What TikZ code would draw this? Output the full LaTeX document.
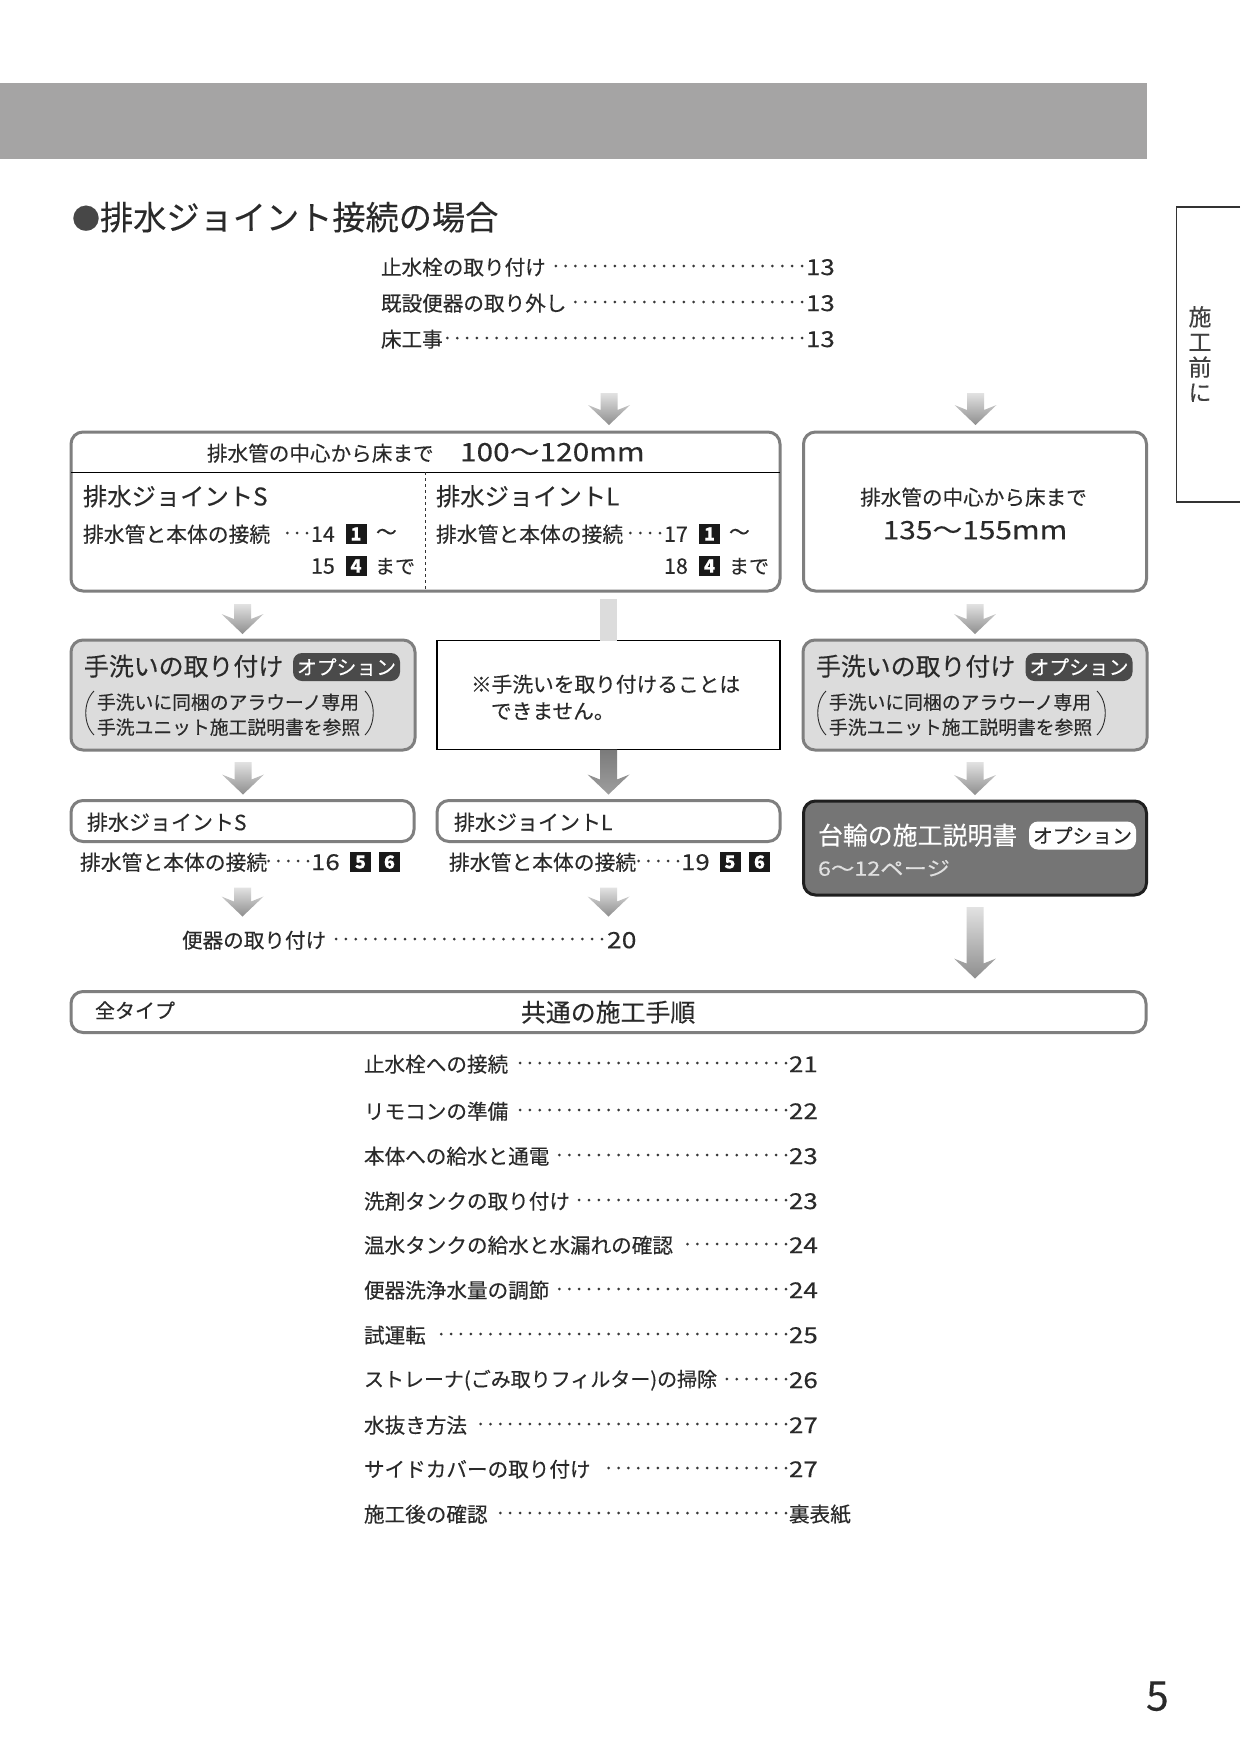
\documentclass[tikz,border=0pt]{standalone}
\usepackage{fontspec}
\setmainfont[FakeBold=0.25]{Noto Sans CJK JP}
\newfontfamily\widefont[FakeStretch=1.18,FakeBold=0.25]{Noto Sans CJK JP}
\usetikzlibrary{calc}
\definecolor{txt}{HTML}{2A2A2A}
\definecolor{band}{HTML}{A5A4A4}
\definecolor{edge}{HTML}{7F7F7F}
\definecolor{panel}{HTML}{DCDCDC}
\definecolor{darkpanel}{HTML}{757575}
\definecolor{pilldark}{HTML}{4A4A4A}
\definecolor{arrowtop}{HTML}{E2E2E2}
\definecolor{arrowtip}{HTML}{8E8E8E}
\tikzset{
  tx/.style={inner sep=0pt,outer sep=0pt,text=txt,anchor=west,yshift=-1.2pt},
  rbox/.style={draw=edge,line width=3pt,rounded corners=12pt,inner sep=0pt,outer sep=0pt,fill=white},
  panelbox/.style={rbox,fill=panel},
  darkbox/.style={rbox,draw=black!88,fill=darkpanel},
  notebox/.style={draw=black,line width=1.5pt,fill=white,inner sep=0pt,outer sep=0pt},
  pillbox/.style={rounded corners=9pt,fill=pilldark,text=white,inner sep=0pt,outer sep=0pt,minimum width=107pt,minimum height=28pt,font=\fontsize{19.8}{20}\selectfont},
  pillwhite/.style={pillbox,fill=white,text=txt},
  sqnum/.style={fill=black!90,text=white,inner sep=0pt,outer sep=0pt,minimum width=21pt,minimum height=20pt,font=\bfseries\fontsize{18}{18}\selectfont},
  leader/.style={draw=black!78,line width=3pt,line cap=round,dash pattern=on 0pt off 9.85pt,yshift=-1pt},
  paren/.style={draw=txt,line width=0.9pt},
  rule/.style={draw=black,line width=1pt},
}
\newcommand\tx[5]{\node[tx,font=\fontsize{#4}{#4}\selectfont] (#1) at (#2,#3) {#5};}
\newcommand\wtx[5]{\node[tx,font=\widefont\fontsize{#4}{#4}\selectfont] (#1) at (#2,#3) {#5};}
\newcommand\garrow[2]{\path[top color=arrowtop,bottom color=arrowtip] let \p1=(#1),\p2=(#2) in
  (\x1-8.5pt,\y1)--(\x1+8.5pt,\y1)--(\x1+8.5pt,\y2+15pt)--(\x1+21pt,\y2+20pt)--(\x1,\y2)--(\x1-21pt,\y2+20pt)--(\x1-8.5pt,\y2+15pt)--cycle;}
\newcommand\tocrow[6][20.6]{% [label size] name, y, label, dot start, number
  \tx{#2}{364}{#3}{#1}{#4}
  \wtx{#2n}{789}{#3}{22}{#6}
  \coordinate (#2d) at (#5,#3);
  \draw[leader] ([xshift=-3pt]#2n.west |- #2d) -- (#2d);}
\begin{document}
\begin{tikzpicture}[x=1pt,y=-1pt]
\useasboundingbox (0,0) rectangle (1240,1754);
\fill[white] (0,0) rectangle (1240,1754);
\node[fill=band,inner sep=0pt,outer sep=0pt,minimum width=1147pt,minimum height=76pt] (topband) at (573.5,121) {};
\node[tx,text=black!72,font=\fontsize{28}{28}\selectfont] (titledot) at (72,217) {●};
\node[tx,font=\fontsize{33.2}{33}\selectfont] (title) at (100,216) {排水ジョイント接続の場合};

% side tab
\coordinate (tabA) at (1240,207);
\coordinate (tabB) at (1176.5,207);
\coordinate (tabC) at (1176.5,502);
\coordinate (tabD) at (1240,502);
\draw[draw=black!80,line width=1.4pt] (tabA) -- (tabB) -- (tabC) -- (tabD);
\node[inner sep=0pt,text=black!75,align=center,font=\fontsize{23}{25.2}\selectfont] (tabtext) at (1200,354) {施\\工\\前\\に};

% opening list
\tx{ta}{381}{266}{20.6}{止水栓の取り付け}
\wtx{tan}{806}{266}{22}{13}
\coordinate (tad) at (547,266);
\draw[leader] ([xshift=-4pt]tan.west |- tad) -- (tad);
\tx{tb}{381}{302}{20.6}{既設便器の取り外し}
\wtx{tbn}{806}{302}{22}{13}
\coordinate (tbd) at (570,302);
\draw[leader] ([xshift=-4pt]tbn.west |- tbd) -- (tbd);
\tx{tc}{381}{338}{20.6}{床工事}
\wtx{tcn}{806}{338}{22}{13}
\coordinate (tcd) at (447,338);
\draw[leader] ([xshift=-4pt]tcn.west |- tcd) -- (tcd);

% main boxes
\node[rbox,minimum width=709pt,minimum height=159pt] (boxA) at (425.5,511.5) {};
\node[rbox,minimum width=343pt,minimum height=159pt] (boxB) at (975,511.5) {};
\draw[rule] (boxA.west |- 0,472) -- (boxA.east |- 0,472);
\draw[draw=black!80,line width=0.8pt,dashed] (425,472) -- (425,590);

% column coordinates for the arrows
\coordinate (colL) at (609,393);
\coordinate (colR) at (975.5,393);
\coordinate (colLb) at (608.5,599);

\node[panelbox,minimum width=344pt,minimum height=110pt] (wash1) at (243,695) {};
\node[notebox,minimum width=343pt,minimum height=109pt] (note) at (608.5,695) {};
\node[panelbox,minimum width=344pt,minimum height=110pt] (wash2) at (975,695) {};
\node[rbox,minimum width=343pt,minimum height=41pt] (jointS) at (242.5,821) {};
\node[rbox,minimum width=343pt,minimum height=41pt] (jointL) at (608.5,821) {};
\node[darkbox,minimum width=343pt,minimum height=94pt] (stand) at (975,848) {};
\node[rbox,minimum width=1075pt,minimum height=41pt] (common) at (608.5,1012) {};

% block arrows
\garrow{colL}{$(boxA.north -| colL)+(0,-7)$}
\garrow{colR}{$(boxB.north)+(0,-7)$}
\garrow{$(boxA.south)+(-183,13)$}{$(wash1.north)+(0,-6)$}
\fill[panel] ($(colLb)+(-8.5,0)$) rectangle ($(note.north)+(8.5,0)$);
\path[top color=black!52,bottom color=black!38] let \p1=(note.south),\p2=($(jointL.north)+(0,-6)$) in
  (\x1-8.5pt,\y1)--(\x1+8.5pt,\y1)--(\x1+8.5pt,\y2+15pt)--(\x1+21pt,\y2+20pt)--(\x1,\y2)--(\x1-21pt,\y2+20pt)--(\x1-8.5pt,\y2+15pt)--cycle;
\garrow{$(boxB.south)+(0,13)$}{$(wash2.north)+(0,-6)$}
\garrow{$(wash1.south)+(0,12)$}{$(jointS.north)+(0,-6)$}
\garrow{$(wash2.south)+(0,12)$}{$(stand.north)+(0,-6)$}
\garrow{$(jointS.south)+(0,46)$}{$(jointS.south)+(0,75)$}
\garrow{$(jointL.south)+(0,46)$}{$(jointL.south)+(0,75)$}
\garrow{$(stand.south)+(0,12)$}{$(common.north -| stand.south)+(0,-13)$}

% box A text
\tx{h1}{207}{452}{20.6}{排水管の中心から床まで}
\wtx{h2}{460}{451}{25.3}{100〜120mm}
\tx{s1}{83}{495}{24.3}{排水ジョイントS}
\tx{s2}{83}{533}{20.8}{排水管と本体の接続}
\tx{s3}{311}{533}{21.5}{14}
\coordinate (s2d) at (280,533);
\draw[leader] ([xshift=-4pt]s3.west |- s2d) -- (s2d);
\node[sqnum] (s4) at (356,534) {1};
\tx{s5}{376}{533}{20.8}{〜}
\tx{s6}{311}{565}{21.5}{15}
\node[sqnum] (s7) at (356,566) {4};
\tx{s8}{375}{565}{20}{まで}
\tx{l1}{436}{495}{24.3}{排水ジョイントL}
\tx{l2}{436}{533}{20.8}{排水管と本体の接続}
\tx{l3}{664}{533}{21.5}{17}
\coordinate (l2d) at (630,533);
\draw[leader] ([xshift=-4pt]l3.west |- l2d) -- (l2d);
\node[sqnum] (l4) at (709.5,534) {1};
\tx{l5}{729}{533}{20.8}{〜}
\tx{l6}{664}{565}{21.5}{18}
\node[sqnum] (l7) at (709.5,566) {4};
\tx{l8}{729}{565}{20}{まで}

% box B text
\node[inner sep=0pt,text=txt,yshift=-1.2pt,font=\fontsize{20.6}{21}\selectfont] (b1) at (973.5,496) {排水管の中心から床まで};
\node[inner sep=0pt,text=txt,yshift=-1.2pt,font=\widefont\fontsize{25.3}{27}\selectfont] (b2) at (975,529) {135〜155mm};

% wash left
\tx{w1}{84}{665}{24.9}{手洗いの取り付け}
\node[pillbox] (wp) at (346.5,667) {オプション};
\tx{w2}{97}{701}{18.8}{手洗いに同梱のアラウーノ専用}
\tx{w3}{97}{726}{18.8}{手洗ユニット施工説明書を参照}
\coordinate (wpl1) at (94,691); \coordinate (wpl2) at (94,735);
\draw[paren] (wpl1) .. controls (83,702) and (83,724) .. (wpl2);
\coordinate (wpr1) at (365,691); \coordinate (wpr2) at (365,735);
\draw[paren] (wpr1) .. controls (376,702) and (376,724) .. (wpr2);

% note
\tx{n1}{471}{683}{20.7}{※手洗いを取り付けることは}
\tx{n2}{491}{710}{20.7}{できません。}

% wash right
\tx{x1}{816}{665}{24.9}{手洗いの取り付け}
\node[pillbox] (xp) at (1079,667) {オプション};
\tx{x2}{829}{701}{18.8}{手洗いに同梱のアラウーノ専用}
\tx{x3}{829}{726}{18.8}{手洗ユニット施工説明書を参照}
\coordinate (xpl1) at (826,691); \coordinate (xpl2) at (826,735);
\draw[paren] (xpl1) .. controls (815,702) and (815,724) .. (xpl2);
\coordinate (xpr1) at (1097,691); \coordinate (xpr2) at (1097,735);
\draw[paren] (xpr1) .. controls (1108,702) and (1108,724) .. (xpr2);

% joint boxes
\tx{j1}{87}{821}{21}{排水ジョイントS}
\tx{j2}{454}{821}{21}{排水ジョイントL}
\tx{j3}{80}{861}{20.8}{排水管と本体の接続}
\wtx{j4}{311}{861}{22}{16}
\coordinate (j3d) at (268,861);
\draw[leader] ([xshift=-3pt]j4.west |- j3d) -- (j3d);
\node[sqnum] (j5) at (360.5,862) {5};
\node[sqnum] (j6) at (389.5,862) {6};
\tx{k3}{449}{861}{20.8}{排水管と本体の接続}
\wtx{k4}{681}{861}{22}{19}
\coordinate (k3d) at (638,861);
\draw[leader] ([xshift=-3pt]k4.west |- k3d) -- (k3d);
\node[sqnum] (k5) at (730,862) {5};
\node[sqnum] (k6) at (759.5,862) {6};

% stand box
\node[tx,text=white,font=\fontsize{24.9}{25}\selectfont] (d1) at (818,834) {台輪の施工説明書};
\node[pillwhite] (dp) at (1082.5,835.5) {オプション};
\node[tx,text=black!12,font=\widefont\fontsize{19.8}{21}\selectfont] (d2) at (818,867) {6〜12ページ};

% toilet line
\tx{f1}{182}{939}{20.6}{便器の取り付け}
\wtx{f2}{607}{939}{22.5}{20}
\coordinate (f1d) at (332,939);
\draw[leader] ([xshift=-5pt]f2.west |- f1d) -- (f1d);

% common
\tx{c1}{95}{1009}{20}{全タイプ}
\tx{c2}{521}{1011}{24.9}{共通の施工手順}

% step list
\tocrow{r1}{1063}{止水栓への接続}{516}{21}
\tocrow{r2}{1110}{リモコンの準備}{516}{22}
\tocrow{r3}{1155}{本体への給水と通電}{553}{23}
\tocrow{r4}{1200}{洗剤タンクの取り付け}{575}{23}
\tocrow{r5}{1244}{温水タンクの給水と水漏れの確認}{680}{24}
\tocrow{r6}{1289}{便器洗浄水量の調節}{555}{24}
\tocrow{r7}{1334}{試運転}{434}{25}
\tocrow[20]{r8}{1379}{ストレーナ(ごみ取りフィルター)の掃除}{725}{26}
\tocrow{r9}{1424}{水抜き方法}{472}{27}
\tocrow{r10}{1468}{サイドカバーの取り付け}{599}{27}
\tx{r11}{364}{1513}{20.6}{施工後の確認}
\tx{r11n}{789}{1513}{20.6}{裏表紙}
\coordinate (r11d) at (495,1513);
\draw[leader] ([xshift=-3pt]r11n.west |- r11d) -- (r11d);

\node[tx,font=\fontsize{41}{41}\selectfont] (pageno) at (1146,1695) {5};
\end{tikzpicture}
\end{document}
